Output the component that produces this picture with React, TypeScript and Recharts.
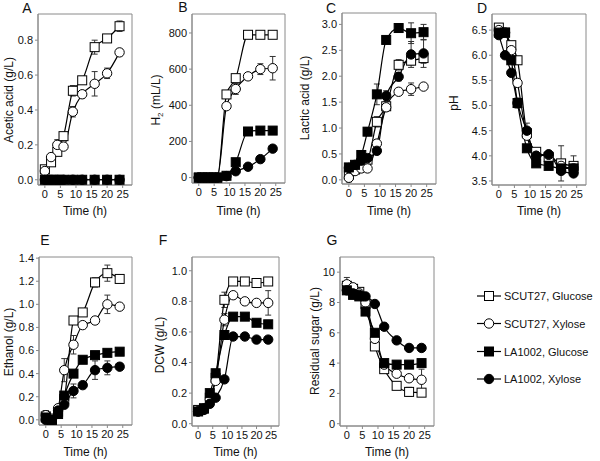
import { LineChart, Line, XAxis, YAxis, ReferenceArea, ErrorBar } from 'recharts';

// sampling times (h), shared by every panel
const time = [0, 2, 4, 6, 9, 12, 16, 20, 24];
const timeTicks = [0, 5, 10, 15, 20, 25];
const seriesNames = ['SCUT27, Glucose', 'SCUT27, Xylose', 'LA1002, Glucose', 'LA1002, Xylose'];

// A - acetic acid (g/L)
const aceticSG = [0.06, 0.1, 0.16, 0.25, 0.51, 0.57, 0.76, 0.81, 0.88];
const aceticSX = [0.05, 0.13, 0.2, 0.19, 0.39, 0.49, 0.55, 0.61, 0.73];
const aceticLG = [0, 0, 0, 0, 0, 0, 0, 0, 0];
const aceticLX = [0, 0, 0, 0, 0, 0, 0, 0, 0];
const aceticSGErr = [0.01, 0.01, 0.01, 0.01, 0.03, 0.02, 0.04, 0.01, 0.03];
const aceticSXErr = [0.02, 0.02, 0.03, 0.01, 0.03, 0.02, 0.07, 0.03, 0.02];

// B - H2 (mL/L)
const h2SG = [0, 0, 0, 0, 460, 550, 790, 790, 790];
const h2SX = [0, 0, 0, 0, 395, 490, 560, 600, 605];
const h2LG = [0, 0, 0, 0, 10, 85, 255, 260, 260];
const h2LX = [0, 0, 0, 0, 8, 35, 60, 102, 160];
const h2SXErr = [0, 0, 0, 0, 10, 30, 10, 30, 65];
const h2LGErr = [0, 0, 0, 0, 0, 0, 15, 0, 0];

// C - lactic acid (g/L)
const lacticSG = [0.1, 0.2, 0.32, 0.39, 1.12, 1.42, 2.22, 2.3, 2.35];
const lacticSX = [0.04, 0.17, 0.22, 0.22, 0.7, 1.4, 1.7, 1.75, 1.8];
const lacticLG = [0.24, 0.29, 0.48, 0.93, 1.65, 2.7, 2.93, 2.83, 2.85];
const lacticLX = [0.23, 0.29, 0.37, 0.42, 0.56, 1.62, 1.99, 2.42, 2.44];
const lacticSGErr = [0.05, 0.02, 0.03, 0.03, 0.1, 0.05, 0.1, 0.08, 0.1];
const lacticSXErr = [0.08, 0.03, 0.03, 0.03, 0.06, 0.05, 0.05, 0.12, 0.03];
const lacticLGErr = [0.02, 0.02, 0.05, 0.08, 0.2, 0.03, 0.08, 0.2, 0.15];
const lacticLXErr = [0.02, 0.02, 0.03, 0.03, 0.05, 0.1, 0.08, 0.25, 0.27];

// D - pH
const phSG = [6.55, 6.45, 6.2, 5.9, 4.45, 4.08, 3.98, 3.85, 3.8];
const phSX = [6.5, 6.45, 6.1, 5.45, 4.4, 4.0, 4.02, 3.8, 3.75];
const phLG = [6.45, 6.45, 5.9, 5.05, 4.15, 3.85, 3.8, 3.75, 3.75];
const phLX = [6.4, 6.0, 5.65, 5.05, 4.5, 4.0, 4.03, 3.7, 3.65];
const phSGErr = [0.05, 0.05, 0.05, 0.05, 0.05, 0.05, 0.05, 0.35, 0.2];
const phLXErr = [0.05, 0.05, 0.05, 0.1, 0.15, 0.05, 0.05, 0.05, 0.05];

// E - ethanol (g/L)
const ethanolSG = [0.03, 0.0, 0.07, 0.18, 0.86, 0.93, 1.19, 1.27, 1.22];
const ethanolSX = [0.04, 0.01, 0.1, 0.43, 0.65, 0.82, 0.86, 1.0, 0.98];
const ethanolLG = [0.02, 0.0, 0.05, 0.21, 0.4, 0.52, 0.56, 0.58, 0.59];
const ethanolLX = [0.0, 0.0, 0.08, 0.13, 0.25, 0.3, 0.43, 0.45, 0.46];
const ethanolSGErr = [0.05, 0.01, 0.02, 0.02, 0.03, 0.02, 0.04, 0.07, 0.01];
const ethanolSXErr = [0.04, 0.01, 0.03, 0.1, 0.08, 0.02, 0.03, 0.08, 0.01];
const ethanolLXErr = [0.02, 0.01, 0.02, 0.03, 0.06, 0.02, 0.08, 0.06, 0.02];

// F - DCW (g/L)
const dcwSG = [0.09, 0.1, 0.17, 0.3, 0.81, 0.93, 0.93, 0.92, 0.93];
const dcwSX = [0.08, 0.1, 0.16, 0.28, 0.68, 0.84, 0.8, 0.79, 0.79];
const dcwLG = [0.08, 0.1, 0.2, 0.33, 0.58, 0.7, 0.7, 0.66, 0.65];
const dcwLX = [0.08, 0.09, 0.13, 0.17, 0.29, 0.57, 0.57, 0.55, 0.55];
const dcwSGErr = [0.01, 0.01, 0.01, 0.02, 0.05, 0.01, 0.01, 0.01, 0.01];
const dcwSXErr = [0.01, 0.01, 0.01, 0.02, 0.04, 0.01, 0.01, 0.01, 0.08];

// G - residual sugar (g/L)
const sugarSG = [9.1, 8.9, 8.7, 7.9, 5.1, 3.6, 2.5, 2.1, 2.05];
const sugarSX = [9.2, 9.0, 8.6, 8.0, 5.6, 3.9, 3.3, 3.0, 2.9];
const sugarLG = [8.8, 8.5, 8.4, 7.4, 6.0, 4.0, 3.9, 3.9, 4.0];
const sugarLX = [8.8, 8.6, 8.5, 8.4, 7.9, 6.4, 5.5, 5.0, 5.0];
const sugarSGErr = [0.3, 0.2, 0.2, 0.2, 0.2, 0.2, 0.2, 0.3, 0.15];
const sugarSXErr = [0.45, 0.2, 0.2, 0.2, 0.2, 0.2, 0.2, 0.2, 0.7];

const FONT = '"Liberation Sans", Arial, sans-serif';
const FRAME = '#8a8a8a';
const INK = '#111';

function marker(kind: number) {
  // kind 0: open square, 1: open circle, 2: filled square, 3: filled circle
  return (p: any) => {
    const { cx, cy, index } = p;
    if (cx == null || cy == null) return <g key={`m-${index}`} />;
    const fill = kind >= 2 ? '#000' : '#fff';
    if (kind % 2 === 0) {
      return (
        <rect key={`m-${index}`} x={cx - 4.5} y={cy - 4.5} width={9} height={9}
          fill={fill} stroke="#000" strokeWidth={1} />
      );
    }
    return <circle key={`m-${index}`} cx={cx} cy={cy} r={4.7} fill={fill} stroke="#000" strokeWidth={1} />;
  };
}

type Box = { x: number; y: number; w: number; h: number };

function Panel(props: {
  letter: string;
  letterAt: [number, number];
  ylabel: any;
  ylabelAt: [number, number];
  timeY: number;
  box: Box;
  xDomain: [number, number];
  yDomain: [number, number];
  yTicks: number[];
  digits: number;
  series: number[][];
  errors: (number[] | undefined)[];
}) {
  const { letter, letterAt, ylabel, ylabelAt, timeY, box, xDomain, yDomain, yTicks, digits, series, errors } = props;
  const L = 40, T = 6, R = 6, B = 24;
  const data = time.map((t, i) => {
    const row: any = { t };
    series.forEach((s, k) => {
      row[`s${k}`] = s[i];
      row[`e${k}`] = errors[k] ? errors[k]![i] : 0;
    });
    return row;
  });

  return (
    <>
      <div style={{ position: 'absolute', left: letterAt[0], top: letterAt[1], transform: 'translate(-50%,-50%)', fontSize: 14, color: INK }}>
        {letter}
      </div>
      <div style={{ position: 'absolute', left: ylabelAt[0], top: ylabelAt[1], transform: 'translate(-50%,-50%) rotate(-90deg)', fontSize: 12, color: INK, whiteSpace: 'nowrap' }}>
        {ylabel}
      </div>
      <div style={{ position: 'absolute', left: box.x + box.w / 2, top: timeY, transform: 'translate(-50%,-50%)', fontSize: 12, color: INK, whiteSpace: 'nowrap' }}>
        Time (h)
      </div>
      <div style={{ position: 'absolute', left: box.x - L, top: box.y - T }}>
        <LineChart width={box.w + L + R} height={box.h + T + B} data={data}
          margin={{ top: T, right: R, left: 0, bottom: 0 }} style={{ fontFamily: FONT }}>
          <XAxis dataKey="t" type="number" domain={xDomain} ticks={timeTicks} allowDataOverflow height={B}
            interval={0} tickSize={3} tickMargin={2} axisLine={{ stroke: FRAME }} tickLine={{ stroke: FRAME }}
            tick={{ fontSize: 11, fill: INK }} />
          <YAxis type="number" domain={yDomain} ticks={yTicks} allowDataOverflow width={L} interval={0}
            tickSize={3} tickMargin={2} axisLine={{ stroke: FRAME }} tickLine={{ stroke: FRAME }}
            tick={{ fontSize: 11, fill: INK }} tickFormatter={(v: number) => v.toFixed(digits)} />
          <ReferenceArea x1={xDomain[0]} x2={xDomain[1]} y1={yDomain[0]} y2={yDomain[1]}
            fill="none" stroke={FRAME} strokeWidth={1} ifOverflow="visible" />
          {series.map((_, k) => (
            <Line key={k} dataKey={`s${k}`} type="monotone" stroke="#000" strokeWidth={1.2}
              dot={marker(k)} activeDot={false} isAnimationActive={false} name={seriesNames[k]}>
              {errors[k] && (
                <ErrorBar dataKey={`e${k}`} direction="y" width={3} stroke="#333" strokeWidth={1} />
              )}
            </Line>
          ))}
        </LineChart>
      </div>
    </>
  );
}

function LegendBox() {
  const rows = [296, 323.5, 351.5, 379];
  return (
    <svg width={128} height={120} style={{ position: 'absolute', left: 470, top: 280 }}>
      {seriesNames.map((name, k) => {
        const y = rows[k] - 280;
        const cx = 19;
        return (
          <g key={name}>
            <line x1={7} x2={31} y1={y} y2={y} stroke="#000" strokeWidth={1.2} />
            {k % 2 === 0 ? (
              <rect x={cx - 4.5} y={y - 4.5} width={9} height={9} fill={k >= 2 ? '#000' : '#fff'} stroke="#000" />
            ) : (
              <circle cx={cx} cy={y} r={4.7} fill={k >= 2 ? '#000' : '#fff'} stroke="#000" />
            )}
            <text x={34} y={y + 4} fontSize={11} fill={INK} style={{ fontFamily: FONT }}>{name}</text>
          </g>
        );
      })}
    </svg>
  );
}

export default function App() {
  const xDom: [number, number] = [-2.2, 28];
  return (
    <div style={{ position: 'absolute', left: 0, top: 0, width: 600, height: 461, background: '#fff', fontFamily: FONT, overflow: 'hidden' }}>
      <Panel letter="A" letterAt={[27, 8]} ylabel="Acetic acid (g/L)" ylabelAt={[9, 100]} timeY={211}
        box={{ x: 38, y: 14, w: 94, h: 171 }} xDomain={xDom} yDomain={[-0.03, 0.95]}
        yTicks={[0, 0.2, 0.4, 0.6, 0.8]} digits={1}
        series={[aceticSG, aceticSX, aceticLG, aceticLX]} errors={[aceticSGErr, aceticSXErr, undefined, undefined]} />
      <Panel letter="B" letterAt={[183, 7]} ylabel={<span>H<sub style={{ fontSize: 8 }}>2</sub> (mL/L)</span>} ylabelAt={[157, 100]} timeY={211}
        box={{ x: 192, y: 14, w: 93, h: 169 }} xDomain={xDom} yDomain={[-30, 905]}
        yTicks={[0, 200, 400, 600, 800]} digits={0}
        series={[h2SG, h2SX, h2LG, h2LX]} errors={[undefined, h2SXErr, h2LGErr, undefined]} />
      <Panel letter="C" letterAt={[331, 8]} ylabel="Lactic acid (g/L)" ylabelAt={[305, 98]} timeY={211}
        box={{ x: 342, y: 13, w: 94, h: 171 }} xDomain={xDom} yDomain={[-0.08, 3.22]}
        yTicks={[0, 0.5, 1, 1.5, 2, 2.5, 3]} digits={1}
        series={[lacticSG, lacticSX, lacticLG, lacticLX]} errors={[lacticSGErr, lacticSXErr, lacticLGErr, lacticLXErr]} />
      <Panel letter="D" letterAt={[482, 8]} ylabel="pH" ylabelAt={[454, 103]} timeY={211}
        box={{ x: 492, y: 14, w: 94, h: 171 }} xDomain={xDom} yDomain={[3.42, 6.82]}
        yTicks={[3.5, 4, 4.5, 5, 5.5, 6, 6.5]} digits={1}
        series={[phSG, phSX, phLG, phLX]} errors={[phSGErr, undefined, undefined, phLXErr]} />
      <Panel letter="E" letterAt={[45, 240]} ylabel="Ethanol (g/L)" ylabelAt={[9, 342]} timeY={452}
        box={{ x: 39, y: 257, w: 93, h: 168 }} xDomain={xDom} yDomain={[-0.045, 1.41]}
        yTicks={[0, 0.2, 0.4, 0.6, 0.8, 1, 1.2, 1.4]} digits={1}
        series={[ethanolSG, ethanolSX, ethanolLG, ethanolLX]} errors={[ethanolSGErr, ethanolSXErr, undefined, ethanolLXErr]} />
      <Panel letter="F" letterAt={[163, 240]} ylabel="DCW (g/L)" ylabelAt={[160, 345]} timeY={452}
        box={{ x: 192, y: 257, w: 87, h: 169 }} xDomain={[-2.1, 27.7]} yDomain={[-0.015, 1.09]}
        yTicks={[0, 0.2, 0.4, 0.6, 0.8, 1]} digits={1}
        series={[dcwSG, dcwSX, dcwLG, dcwLX]} errors={[dcwSGErr, dcwSXErr, undefined, undefined]} />
      <Panel letter="G" letterAt={[332, 240]} ylabel="Residual sugar (g/L)" ylabelAt={[315, 341]} timeY={452}
        box={{ x: 340, y: 257, w: 94, h: 169 }} xDomain={xDom} yDomain={[-0.15, 11]}
        yTicks={[0, 2, 4, 6, 8, 10]} digits={0}
        series={[sugarSG, sugarSX, sugarLG, sugarLX]} errors={[sugarSGErr, sugarSXErr, undefined, undefined]} />
      <LegendBox />
    </div>
  );
}
